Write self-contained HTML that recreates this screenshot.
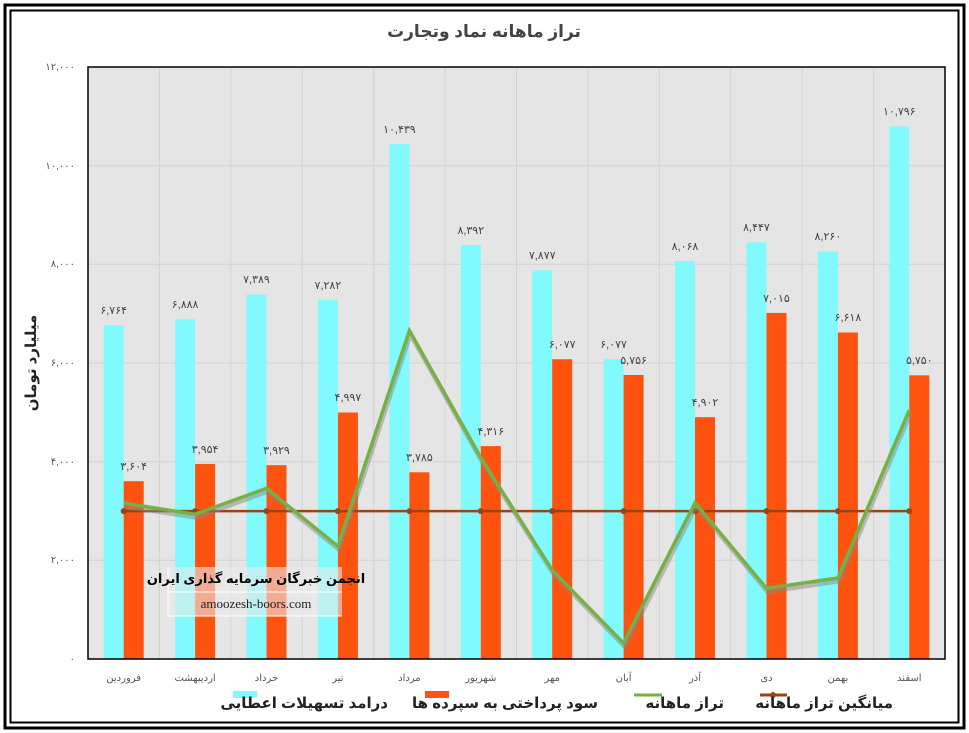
<!DOCTYPE html>
<html><head><meta charset="utf-8"><style>
body{margin:0;background:#fff;}
svg{display:block;font-family:"Liberation Sans","DejaVu Sans",sans-serif;}
</style></head><body>
<svg width="969" height="733" viewBox="0 0 969 733" xmlns="http://www.w3.org/2000/svg">
<rect x="0" y="0" width="969" height="733" fill="#fff"/>
<rect x="5" y="5" width="959" height="723" fill="none" stroke="#000" stroke-width="3"/>
<rect x="10.5" y="10.5" width="948" height="712" fill="none" stroke="#000" stroke-width="2"/>
<text x="484" y="37" text-anchor="middle" font-size="17" font-weight="bold" fill="#444">تراز ماهانه نماد وتجارت</text>
<rect x="88" y="67" width="857" height="592" fill="#e6e5e6"/>
<g stroke="#d2d2d2" stroke-width="1">
<line x1="88" y1="560.3" x2="945" y2="560.3"/><line x1="88" y1="461.7" x2="945" y2="461.7"/>
<line x1="88" y1="363" x2="945" y2="363"/><line x1="88" y1="264.3" x2="945" y2="264.3"/>
<line x1="88" y1="165.7" x2="945" y2="165.7"/>
<line x1="159.4" y1="67" x2="159.4" y2="659"/><line x1="230.8" y1="67" x2="230.8" y2="659"/>
<line x1="302.2" y1="67" x2="302.2" y2="659"/><line x1="373.7" y1="67" x2="373.7" y2="659"/>
<line x1="445.1" y1="67" x2="445.1" y2="659"/><line x1="516.5" y1="67" x2="516.5" y2="659"/>
<line x1="587.9" y1="67" x2="587.9" y2="659"/><line x1="659.3" y1="67" x2="659.3" y2="659"/>
<line x1="730.7" y1="67" x2="730.7" y2="659"/><line x1="802.2" y1="67" x2="802.2" y2="659"/>
<line x1="873.6" y1="67" x2="873.6" y2="659"/>
</g>
<g font-size="10" fill="#555" text-anchor="end">
<text x="75" y="70">۱۲,۰۰۰</text><text x="75" y="169">۱۰,۰۰۰</text><text x="75" y="267">۸,۰۰۰</text>
<text x="75" y="366">۶,۰۰۰</text><text x="75" y="465">۴,۰۰۰</text><text x="75" y="563">۲,۰۰۰</text><text x="75" y="662">۰</text>
</g>
<text transform="translate(36,363) rotate(-90)" text-anchor="middle" font-size="15" font-weight="bold" fill="#222">میلیارد تومان</text>
<g fill="#80fafd">
<rect x="103.7" y="325.3" width="20" height="333.7"/>
<rect x="175.1" y="319.2" width="20" height="339.8"/>
<rect x="246.5" y="294.5" width="20" height="364.5"/>
<rect x="317.9" y="299.8" width="20" height="359.2"/>
<rect x="389.4" y="144" width="20" height="515"/>
<rect x="460.8" y="245" width="20" height="414"/>
<rect x="532.2" y="270.4" width="20" height="388.6"/>
<rect x="603.6" y="359.2" width="20" height="299.8"/>
<rect x="675" y="261" width="20" height="398"/>
<rect x="746.5" y="242.3" width="20" height="416.7"/>
<rect x="817.9" y="251.5" width="20" height="407.5"/>
<rect x="889.3" y="126.4" width="20" height="532.6"/>
</g>
<g fill="#fe520f">
<rect x="123.7" y="481.2" width="20" height="177.8"/>
<rect x="195.1" y="463.9" width="20" height="195.1"/>
<rect x="266.5" y="465.2" width="20" height="193.8"/>
<rect x="337.9" y="412.5" width="20" height="246.5"/>
<rect x="409.4" y="472.3" width="20" height="186.7"/>
<rect x="480.8" y="446.1" width="20" height="212.9"/>
<rect x="552.2" y="359.2" width="20" height="299.8"/>
<rect x="623.6" y="375" width="20" height="284"/>
<rect x="695" y="417.2" width="20" height="241.8"/>
<rect x="766.5" y="312.9" width="20" height="346.1"/>
<rect x="837.9" y="332.5" width="20" height="326.5"/>
<rect x="909.3" y="375.3" width="20" height="283.7"/>
</g>
<g font-size="11" fill="#444" text-anchor="middle">
<text x="113.7" y="314">۶,۷۶۴</text>
<text x="185.1" y="308">۶,۸۸۸</text>
<text x="256.5" y="283">۷,۳۸۹</text>
<text x="327.9" y="289">۷,۲۸۲</text>
<text x="399.4" y="133">۱۰,۴۳۹</text>
<text x="470.8" y="234">۸,۳۹۲</text>
<text x="542.2" y="259">۷,۸۷۷</text>
<text x="613.6" y="348">۶,۰۷۷</text>
<text x="685" y="250">۸,۰۶۸</text>
<text x="756.5" y="231">۸,۴۴۷</text>
<text x="827.9" y="240">۸,۲۶۰</text>
<text x="899.3" y="115">۱۰,۷۹۶</text>
<text x="133.7" y="470">۳,۶۰۴</text>
<text x="205.1" y="453">۳,۹۵۴</text>
<text x="276.5" y="454">۳,۹۲۹</text>
<text x="347.9" y="401">۴,۹۹۷</text>
<text x="419.4" y="461">۳,۷۸۵</text>
<text x="490.8" y="435">۴,۳۱۶</text>
<text x="562.2" y="348">۶,۰۷۷</text>
<text x="633.6" y="364">۵,۷۵۶</text>
<text x="705" y="406">۴,۹۰۲</text>
<text x="776.5" y="302">۷,۰۱۵</text>
<text x="847.9" y="321">۶,۶۱۸</text>
<text x="919.3" y="364">۵,۷۵۰</text>
</g>
<g font-size="10" fill="#555" text-anchor="middle">
<text x="123.7" y="681">فروردین</text><text x="195.1" y="681">اردیبهشت</text><text x="266.5" y="681">خرداد</text>
<text x="337.9" y="681">تیر</text><text x="409.4" y="681">مرداد</text><text x="480.8" y="681">شهریور</text>
<text x="552.2" y="681">مهر</text><text x="623.6" y="681">آبان</text><text x="695" y="681">آذر</text>
<text x="766.5" y="681">دی</text><text x="837.9" y="681">بهمن</text><text x="909.3" y="681">اسفند</text>
</g>
<line x1="123.7" y1="511.1" x2="909.3" y2="511.1" stroke="#994418" stroke-width="2.5"/>
<g fill="#994418">
<circle cx="123.7" cy="511.1" r="3"/><circle cx="195.1" cy="511.1" r="3"/><circle cx="266.5" cy="511.1" r="3"/>
<circle cx="337.9" cy="511.1" r="3"/><circle cx="409.4" cy="511.1" r="3"/><circle cx="480.8" cy="511.1" r="3"/>
<circle cx="552.2" cy="511.1" r="3"/><circle cx="623.6" cy="511.1" r="3"/><circle cx="695" cy="511.1" r="3"/>
<circle cx="766.5" cy="511.1" r="3"/><circle cx="837.9" cy="511.1" r="3"/><circle cx="909.3" cy="511.1" r="3"/>
</g>
<path d="M123.7,503.1 L195.1,514.3 L266.5,488.3 L337.9,546.3 L409.4,330.7 L480.8,457.9 L552.2,570.2 L623.6,643.2 L695,502.8 L766.5,588.4 L837.9,578 L909.3,410.1" fill="none" stroke="#888" stroke-width="5" opacity="0.5" transform="translate(1,3)"/>
<path d="M123.7,503.1 L195.1,514.3 L266.5,488.3 L337.9,546.3 L409.4,330.7 L480.8,457.9 L552.2,570.2 L623.6,643.2 L695,502.8 L766.5,588.4 L837.9,578 L909.3,410.1" fill="none" stroke="#77b045" stroke-width="3.5"/>
<rect x="88" y="67" width="857" height="592" fill="none" stroke="#000" stroke-width="1.5"/>
<g>
<rect x="168" y="567" width="174" height="49" fill="#eaeaea" opacity="0.6"/>
<line x1="168" y1="567" x2="168" y2="616" stroke="#fff"/>
<line x1="168" y1="592" x2="342" y2="592" stroke="#fff"/>
<line x1="168" y1="616" x2="342" y2="616" stroke="#fff"/>
<text x="256" y="583" text-anchor="middle" font-size="13" font-weight="bold" fill="#000">انجمن خبرگان سرمایه گذاری ایران</text>
<text x="256" y="608" text-anchor="middle" font-size="13" font-family="Liberation Serif" fill="#222">amoozesh-boors.com</text>
</g>
<g font-size="15" font-weight="bold" fill="#222">
<rect x="233" y="691" width="24" height="7" fill="#80fafd"/>
<text x="388" y="708" text-anchor="end">درامد تسهیلات اعطایی</text>
<rect x="425" y="691" width="24" height="7" fill="#fe520f"/>
<text x="598" y="708" text-anchor="end">سود پرداختی به سپرده ها</text>
<line x1="634" y1="695" x2="662" y2="695" stroke="#77b045" stroke-width="3"/>
<text x="724" y="708" text-anchor="end">تراز ماهانه</text>
<line x1="760" y1="695" x2="787" y2="695" stroke="#994418" stroke-width="3"/>
<circle cx="773" cy="695" r="3" fill="#994418"/>
<text x="893" y="708" text-anchor="end">میانگین تراز ماهانه</text>
</g>
</svg>
</body></html>
